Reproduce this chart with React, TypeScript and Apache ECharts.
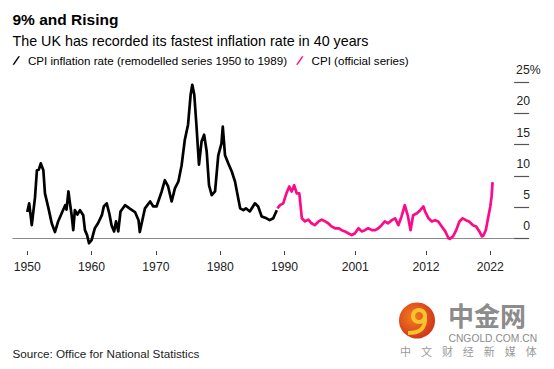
import React, { useEffect, useRef } from "react";
import * as echarts from "echarts";

const remodelledYears = [
  1950.0, 1950.3, 1950.7, 1951.2, 1951.5, 1951.8, 1952.1, 1952.5, 1952.75, 1953.3,
  1953.8, 1954.3, 1954.8, 1955.35, 1955.9, 1956.1, 1956.4, 1956.6, 1956.9, 1957.15,
  1957.4, 1957.8, 1958.2, 1958.7, 1958.97, 1959.3, 1959.6, 1960.0, 1960.5, 1961.0,
  1961.6, 1961.9, 1962.35, 1962.75, 1963.1, 1963.5, 1963.8, 1964.15, 1964.5, 1965.2,
  1966.0, 1966.75, 1967.3, 1967.5, 1968.3, 1969.1, 1969.6, 1970.1, 1970.9, 1971.4,
  1971.9, 1972.45, 1972.96, 1973.5, 1974.0, 1974.5, 1975.0, 1975.4, 1975.66, 1975.97,
  1976.3, 1976.7, 1977.1, 1977.5, 1977.9, 1978.26, 1978.68, 1979.2, 1979.7, 1980.2,
  1980.4, 1980.75, 1981.26, 1981.8, 1982.3, 1983.1, 1983.6, 1984.0, 1984.6, 1985.4,
  1985.9, 1986.45, 1987.2, 1987.7, 1988.25, 1988.8,
];
const remodelledValues = [
  4.2, 5.6, 2.1, 6.5, 10.9, 11.0, 12.0, 10.9, 7.2, 4.8,
  2.4, 1.0, 2.7, 4.0, 5.3, 4.6, 7.5, 5.9, 3.7, 1.3,
  4.5, 3.8, 4.5, 3.7, 1.3, 0.5, -0.8, -0.3, 1.6, 2.4,
  3.7, 5.1, 5.6, 4.0, 2.1, 1.1, 2.7, 1.1, 4.3, 5.3,
  4.7, 4.2, 2.9, 1.0, 4.8, 5.9, 5.1, 5.1, 7.5, 9.3,
  8.3, 5.9, 8.0, 9.1, 11.7, 15.8, 18.2, 23.0, 24.6, 23.0,
  18.2, 11.8, 15.5, 16.6, 13.9, 8.5, 6.9, 7.5, 13.3, 15.2,
  17.9, 13.3, 12.0, 10.7, 9.1, 4.8, 4.5, 4.8, 4.3, 5.6,
  5.1, 3.5, 3.2, 2.9, 3.2, 4.5,
];

const officialYears = [
  1988.9, 1989.3, 1989.8, 1990.3, 1990.75, 1991.1, 1991.5, 1991.9, 1992.3, 1992.7,
  1993.2, 1993.7, 1994.2, 1994.7, 1995.3, 1995.8, 1996.3, 1996.8, 1997.3, 1997.85,
  1998.4, 1998.9, 1999.4, 1999.9, 2000.45, 2000.96, 2001.5, 2002.0, 2002.5, 2003.0,
  2003.6, 2004.1, 2004.6, 2005.1, 2005.6, 2006.1, 2006.7, 2007.2, 2007.7, 2008.2,
  2008.7, 2009.2, 2009.6, 2010.0, 2010.6, 2011.1, 2011.6, 2011.85, 2012.4, 2012.9,
  2013.4, 2013.9, 2014.45, 2015.0, 2015.5, 2015.7, 2016.2, 2016.7, 2017.2, 2017.7,
  2018.2, 2018.7, 2019.3, 2019.8, 2020.3, 2020.7, 2020.9, 2021.3, 2021.7, 2022.0,
  2022.2, 2022.35,
];
const officialValues = [
  4.8, 5.3, 5.6, 7.2, 8.3, 7.5, 8.5, 7.2, 7.2, 3.2,
  2.7, 3.0, 2.4, 2.1, 2.7, 3.0, 2.7, 2.4, 1.9, 1.6,
  1.6, 1.3, 1.1, 0.8, 0.5, 0.8, 1.6, 1.1, 1.3, 1.6,
  1.3, 1.3, 1.6, 2.1, 2.7, 2.4, 2.9, 3.2, 2.1, 3.5,
  5.3, 3.5, 1.3, 3.7, 4.0, 4.5, 5.1, 4.3, 3.2, 2.7,
  2.9, 2.7, 1.9, 1.1, 0.0, -0.1, 0.3, 1.3, 2.7, 3.2,
  2.9, 2.7, 2.1, 1.9, 1.1, 0.3, 0.4, 1.3, 3.5, 5.1,
  6.7, 9.0,
];

const xTickYears = [1950, 1960, 1970, 1980, 1990, 2001, 2012, 2022];
const yTickValues = [0, 5, 10, 15, 20, 25];

const titleText = "9% and Rising";
const subtitleText = "The UK has recorded its fastest inflation rate in 40 years";
const remodelledName = "CPI inflation rate (remodelled series 1950 to 1989)";
const officialName = "CPI (official series)";
const sourceText = "Source: Office for National Statistics";
const wmChars = ["中", "文", "财", "经", "新", "媒", "体"];

const FONT = "'Liberation Sans', Arial, Helvetica, sans-serif";
const PINK = "#fc0a8a";

export default function App() {
  const ref = useRef<HTMLDivElement>(null);
  useEffect(() => {
    if (!ref.current) return;
    const chart = echarts.init(ref.current, undefined, { renderer: "svg" });
    const zip = (xs: number[], ys: number[]) => xs.map((x, i) => [x, ys[i]]);
    const slash = "path://M0,10L7,0L9,0L2,10Z";
    const option: any = {
      animation: false,
      backgroundColor: "#ffffff",
      textStyle: { fontFamily: FONT },
      title: [
        {
          text: titleText,
          left: 12.5,
          top: 11.5,
          padding: 0,
          textStyle: { fontFamily: FONT, fontSize: 15.5, fontWeight: "bold", color: "#000" },
        },
        {
          text: subtitleText,
          left: 12.5,
          top: 33.5,
          padding: 0,
          textStyle: { fontFamily: FONT, fontSize: 14.3, fontWeight: "normal", color: "#000" },
        },
      ],
      legend: {
        left: 12.5,
        top: 54.5,
        padding: 0,
        itemGap: 9,
        itemWidth: 7.5,
        itemHeight: 9,
        data: [
          { name: remodelledName, icon: slash, itemStyle: { color: "#000" } },
          { name: officialName, icon: slash, itemStyle: { color: PINK } },
        ],
        textStyle: { fontFamily: FONT, fontSize: 11.6, color: "#000", padding: [0, 0, 0, 3] },
      },
      grid: { left: 12.8, right: 39.9, top: 82.3, height: 162.2, containLabel: false },
      xAxis: [
        {
          type: "value",
          min: 1947.75,
          max: 2025.7,
          axisLine: { show: true, onZero: true, lineStyle: { color: "#8a8a8a", width: 1 } },
          axisTick: { show: false },
          axisLabel: { show: false },
          splitLine: { show: false },
        },
        {
          type: "value",
          position: "bottom",
          offset: 6.5,
          min: 1947.75,
          max: 2025.7,
          axisLine: { show: false },
          axisTick: {
            show: true,
            length: 4,
            customValues: xTickYears,
            lineStyle: { color: "#444", width: 1 },
          },
          axisLabel: {
            show: true,
            customValues: xTickYears,
            margin: 10,
            fontFamily: FONT,
            fontSize: 12.2,
            color: "#222",
            formatter: (v: number) => String(v),
          },
          splitLine: { show: false },
        },
      ],
      yAxis: {
        type: "value",
        position: "right",
        min: -1,
        max: 25,
        axisLine: { show: false },
        axisTick: {
          show: true,
          length: 15,
          customValues: yTickValues,
          lineStyle: { color: "#555", width: 1.2 },
        },
        axisLabel: {
          show: true,
          customValues: yTickValues,
          margin: 16,
          align: "right",
          verticalAlign: "bottom",
          padding: [0, 0, 6, 0],
          fontFamily: FONT,
          fontSize: 12.2,
          color: "#222",
          formatter: (v: number) => (v === 25 ? "{p|25%}" : String(v)),
          rich: {
            p: { width: 14, align: "left", fontFamily: FONT, fontSize: 12.2, color: "#222" },
          },
        },
        splitLine: { show: false },
      },
      series: [
        {
          name: remodelledName,
          type: "line",
          xAxisIndex: 0,
          data: zip(remodelledYears, remodelledValues),
          showSymbol: false,
          symbol: "none",
          lineStyle: { color: "#000", width: 2.7, join: "round" },
          itemStyle: { color: "#000" },
          clip: false,
          z: 3,
        },
        {
          name: officialName,
          type: "line",
          xAxisIndex: 0,
          data: zip(officialYears, officialValues),
          showSymbol: false,
          symbol: "none",
          lineStyle: { color: PINK, width: 2.7, join: "round" },
          itemStyle: { color: PINK },
          clip: false,
          z: 3,
        },
      ],
      graphic: [
        {
          type: "text",
          left: 12.5,
          top: 347,
          style: { text: sourceText, fontFamily: FONT, fontSize: 11.7, fill: "#222" },
        },
        {
          type: "circle",
          shape: { cx: 417, cy: 320.5, r: 18 },
          style: {
            fill: new echarts.graphic.RadialGradient(0.4, 0.4, 0.7, [
              { offset: 0, color: "#f2801f" },
              { offset: 1, color: "#cf2c19" },
            ]),
          },
        },
        {
          type: "arc",
          shape: { cx: 419, cy: 316, r: 6, startAngle: 0, endAngle: Math.PI * 2 },
          style: { stroke: "#f7c42f", lineWidth: 4, fill: "none" },
        },
        {
          type: "bezierCurve",
          shape: { x1: 425, y1: 317, cpx1: 426, cpy1: 330, x2: 408, y2: 333, cpx2: 418, cpy2: 333 },
          style: { stroke: "#f7c42f", lineWidth: 4, fill: "none" },
        },
        {
          type: "text",
          x: 448,
          y: 301,
          style: {
            text: "中金网",
            fontFamily: "'Noto Sans CJK SC', sans-serif",
            fontSize: 26,
            lineHeight: 26,
            fontWeight: "bold",
            fill: "#8c8c8c",
          },
        },
        {
          type: "text",
          x: 448.5,
          y: 333,
          style: { text: "CNGOLD.COM.CN", fontFamily: FONT, fontSize: 10.3, lineHeight: 10, fill: "#8c8c8c" },
        },
        ...wmChars.map((c, i) => ({
          type: "text",
          x: 400 + i * 20.95,
          y: 345,
          style: {
            text: c,
            fontFamily: "'Noto Sans CJK SC', sans-serif",
            fontSize: 11,
            lineHeight: 11,
            fill: "#9a9a9a",
          },
        })),
      ],
    };
    chart.setOption(option);
    return () => chart.dispose();
  }, []);
  return (
    <div
      ref={ref}
      style={{ position: "fixed", left: 0, top: 0, width: 554, height: 369, background: "#fff" }}
    />
  );
}
